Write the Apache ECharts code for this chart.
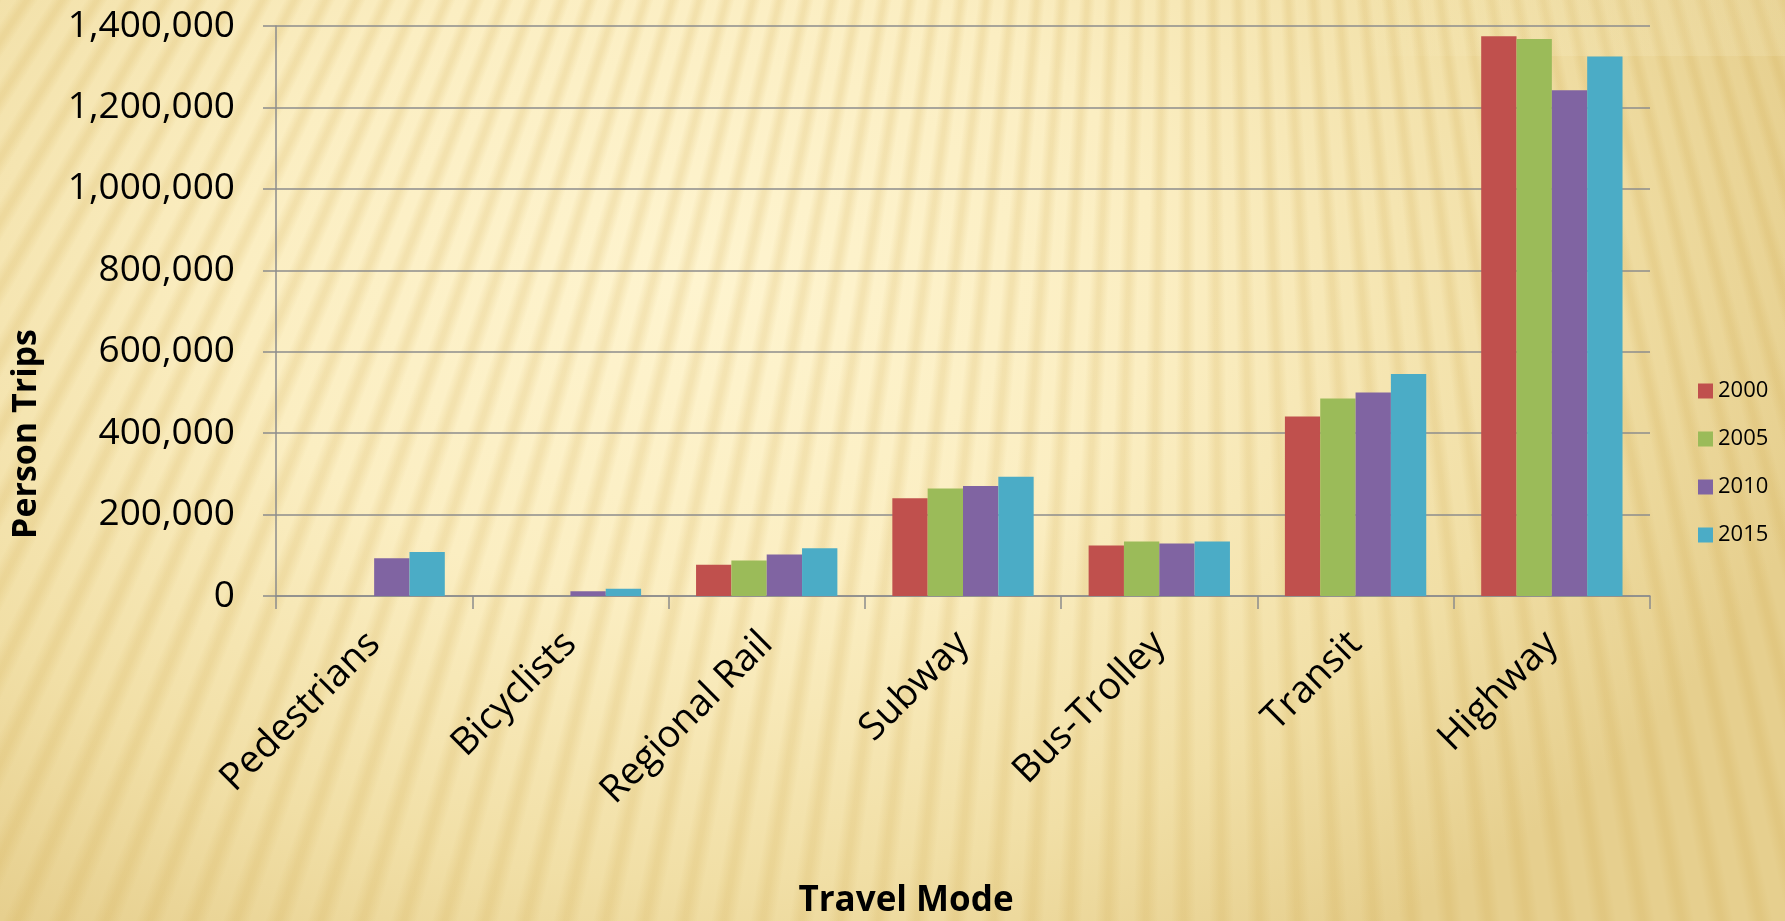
<!DOCTYPE html>
<html>
<head>
<meta charset="utf-8">
<title>Person Trips by Travel Mode</title>
<script src="https://cdn.jsdelivr.net/npm/echarts@6/dist/echarts.min.js"></script>
<style>
  html, body { margin: 0; padding: 0; }
  body {
    width: 1785px; height: 921px; overflow: hidden; position: relative;
    background:
      repeating-conic-gradient(from 0deg at 67% -195%,
        rgba(205,165,70,0) 0deg,
        rgba(205,165,70,0.19) 0.22deg,
        rgba(205,165,70,0.19) 0.30deg,
        rgba(205,165,70,0) 0.52deg,
        rgba(205,165,70,0) 0.80deg),
      radial-gradient(ellipse 1150px 800px at 700px 280px,
        #FEF4CF 0%, #FBEEC2 40%, #F1DFA6 75%, #E6CF8E 100%);
  }
  #band {
    position: absolute; left: 1350px; top: 0; width: 435px; height: 56px;
    background: linear-gradient(to right, rgba(255,248,215,0) 0%, rgba(255,248,215,0.14) 45%, rgba(255,248,215,0.14) 100%);
  }
  #chart { position: absolute; left: 0; top: 0; width: 1785px; height: 921px; }
</style>
</head>
<body>
<div id="band"></div>
<div id="chart"></div>
<script>
// Travel modes along the category axis
const categories = ['Pedestrians', 'Bicyclists', 'Regional Rail', 'Subway', 'Bus-Trolley', 'Transit', 'Highway'];
// Survey years (one bar series each)
const years = ['2000', '2005', '2010', '2015'];
// Daily person trips per mode and year (null = not surveyed)
const trips2000 = [null, null, 77000, 240000, 124000, 441000, 1375000];
const trips2005 = [null, null, 87000, 264000, 134000, 485000, 1368000];
const trips2010 = [93000, 11500, 102000, 270000, 129000, 500000, 1242000];
const trips2015 = [108000, 18000, 117000, 293000, 134000, 545000, 1325000];
// Value axis range
const yMin = 0;
const yMax = 1400000;
const yStep = 200000;

const seriesData = [trips2000, trips2005, trips2010, trips2015];
const yearColors = ['#C0504D', '#9BBB59', '#8064A2', '#4BACC6'];
const font = 'Open Sans';
const gridColor = '#8C8C8C';

const chart = echarts.init(document.getElementById('chart'), null, { renderer: 'canvas' });

chart.setOption({
  backgroundColor: 'transparent',
  animation: false,
  grid: { left: 276, right: 135, top: 26, bottom: 325, containLabel: false },
  legend: {
    orient: 'vertical',
    left: 1693,
    top: 375,
    icon: 'rect',
    itemWidth: 15,
    itemHeight: 15,
    itemGap: 26,
    data: years,
    textStyle: { fontFamily: font, fontSize: 22, lineHeight: 22, color: '#000' }
  },
  xAxis: {
    type: 'category',
    data: categories,
    axisLine: { lineStyle: { color: gridColor, width: 1.5 } },
    axisTick: { show: true, inside: false, length: 13, alignWithLabel: false, lineStyle: { color: gridColor, width: 1.5 } },
    axisLabel: {
      interval: 0,
      rotate: 45,
      margin: 42,
      padding: [29, 0, 0, 0],
      fontFamily: font,
      fontSize: 38,
      color: '#000'
    },
    splitLine: { show: false }
  },
  yAxis: {
    type: 'value',
    min: yMin,
    max: yMax,
    interval: yStep,
    axisLine: { show: true, lineStyle: { color: gridColor, width: 1.5 } },
    axisTick: { show: true, inside: false, length: 13, lineStyle: { color: gridColor, width: 1.5 } },
    axisLabel: {
      margin: 41,
      fontFamily: font,
      fontSize: 37,
      color: '#000',
      formatter: v => v.toLocaleString('en-US')
    },
    splitLine: { show: true, lineStyle: { color: gridColor, width: 1.5 } }
  },
  series: years.map((y, i) => ({
    name: y,
    type: 'bar',
    data: seriesData[i],
    barGap: '0%',
    barCategoryGap: '28%',
    itemStyle: { color: yearColors[i] }
  })),
  graphic: [
    {
      type: 'text',
      x: 26,
      y: 434,
      rotation: Math.PI / 2,
      style: {
        text: 'Person Trips',
        fontFamily: font,
        fontWeight: 'bold',
        fontSize: 34,
        fill: '#000',
        textAlign: 'center',
        textVerticalAlign: 'middle'
      }
    },
    {
      type: 'text',
      x: 906,
      y: 901,
      style: {
        text: 'Travel Mode',
        fontFamily: font,
        fontWeight: 'bold',
        fontSize: 35,
        fill: '#000',
        textAlign: 'center',
        textVerticalAlign: 'middle'
      }
    }
  ]
});
</script>
</body>
</html>
